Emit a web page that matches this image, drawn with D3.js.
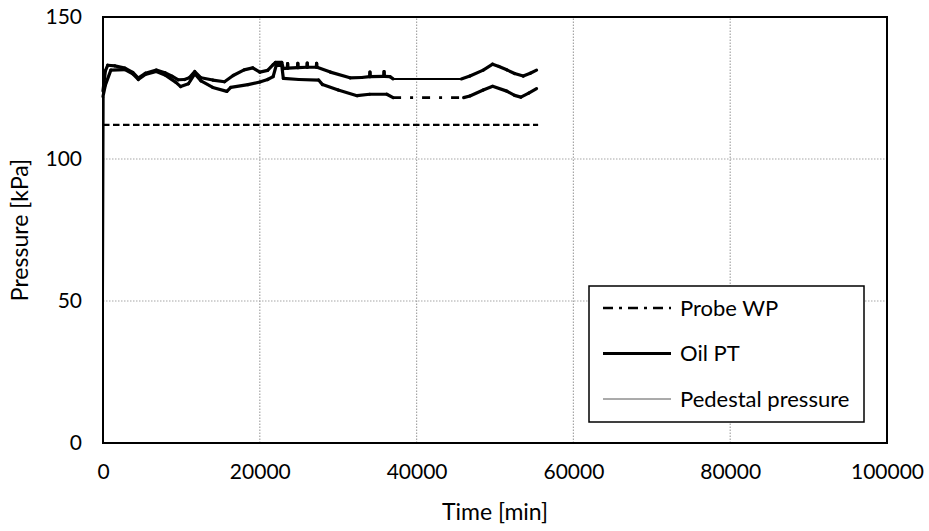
<!DOCTYPE html>
<html>
<head>
<meta charset="utf-8">
<script src="https://cdn.jsdelivr.net/npm/d3@7"></script>
<style>
  html, body { margin: 0; padding: 0; background: #fff; }
  svg { display: block; }
  text { font-family: Lato, "Open Sans", sans-serif; fill: #000; }
</style>
</head>
<body>
<svg id="chart" width="929" height="531"></svg>
<script>
// ---------------- DATA ----------------
const xTicks = [0, 20000, 40000, 60000, 80000, 100000];
const yTicks = [0, 50, 100, 150];
const xTitle = "Time [min]";
const yTitle = "Pressure [kPa]";
const legendNames = ["Probe WP", "Oil PT", "Pedestal pressure"];

// Oil PT (upper thick solid line)
const oilTime = [0, 300, 600, 1500, 2800, 3800, 4500, 5400, 6800, 7900, 8800, 9600, 10400, 11000, 11700, 12500,
  14000, 15500, 16600, 18000, 19100, 20000, 21000, 21700, 22000, 22800, 23000, 23500, 23550, 23600, 24800, 24850, 24900,
  26000, 26050, 26100, 27200, 27250, 27300, 29000, 31500, 33000, 34000, 34050, 34100, 35800, 35850, 35900, 36600, 37000,
  45700, 46800, 48500, 49700, 50500, 51500, 52500, 53600, 54500, 55300];
const oilValues = [124, 131, 133, 132.8, 132, 130.5, 128.5, 130.2, 131.3, 130.4, 129.2, 127.9, 128, 128.6, 130.8, 128.6,
  127.8, 127.2, 129.4, 131.4, 132.1, 130.6, 131.2, 133.2, 134, 134, 131.8, 132, 133.6, 132, 132.2, 133.7, 132.2,
  132.3, 133.8, 132.3, 132.3, 133.7, 132.3, 130.6, 128.6, 128.7, 129, 130.6, 129, 129.1, 130.8, 129.1, 129, 128.2,
  128.2, 129.2, 131.3, 133.4, 132.6, 131.4, 130.1, 129.2, 130.2, 131.3];

// Probe WP (lower line, dash-dot)
const probeTime = [0, 300, 1000, 2800, 3800, 4500, 5400, 6800, 7900, 9300, 9900, 10900, 11700, 12500, 14000, 15800,
  16300, 18500, 20000, 21000, 21700, 22100, 22800, 23000, 25000, 27500, 28000, 30000, 32400, 34000, 36200, 37000,
  46000, 46800, 48500, 49700, 51500, 52500, 53300, 54300, 55300];
const probeValues = [122, 126, 131.3, 131.5, 130, 128, 129.8, 130.8, 129.6, 127, 125.5, 126.5, 130, 127.5, 125.2, 123.8,
  125.2, 126.2, 127.1, 128, 129, 133, 133, 128.4, 128, 127.8, 126.2, 124.3, 122.3, 122.8, 122.8, 121.6,
  121.6, 122.2, 124.3, 125.6, 123.9, 122.4, 121.8, 123.2, 124.8];

// Pedestal pressure (thin line, only visible at the start)
const pedestalTime = [0, 150];
const pedestalValues = [0, 122];

// Constant dashed reference line
const refTime = [0, 55500];
const refValues = [112, 112];

// ---------------- CHART ----------------
const svg = d3.select("#chart");
const W = 929, H = 531;
const margin = { left: 103, right: W - 887, top: 17, bottom: H - 443 };

const x = d3.scaleLinear().domain([0, 100000]).range([margin.left, W - margin.right]);
const y = d3.scaleLinear().domain([0, 150]).range([H - margin.bottom, margin.top]);

// gridlines
const grid = svg.append("g");
grid.selectAll("line.vg").data(xTicks.slice(1, -1)).join("line")
  .attr("x1", d => x(d)).attr("x2", d => x(d))
  .attr("y1", y(0)).attr("y2", y(150))
  .attr("stroke", "#a6a6a6").attr("stroke-width", 1.2).attr("stroke-dasharray", "1.5,1.5");
grid.selectAll("line.hg").data(yTicks.slice(1, -1)).join("line")
  .attr("x1", x(0)).attr("x2", x(100000))
  .attr("y1", d => y(d)).attr("y2", d => y(d))
  .attr("stroke", "#a6a6a6").attr("stroke-width", 1.2).attr("stroke-dasharray", "1.5,1.5");

// axes (labels only)
const xAxis = d3.axisBottom(x).tickValues(xTicks).tickSize(0).tickPadding(21).tickFormat(d3.format("d"));
const gx = svg.append("g").attr("transform", `translate(0,${y(0)})`).call(xAxis);
gx.select(".domain").remove();
gx.selectAll("text").attr("font-size", 21).attr("font-family", "Lato, sans-serif");

const yAxis = d3.axisLeft(y).tickValues(yTicks).tickSize(0).tickPadding(21);
const gy = svg.append("g").attr("transform", `translate(${x(0)},0)`).call(yAxis);
gy.select(".domain").remove();
gy.selectAll("text").attr("font-size", 21).attr("font-family", "Lato, sans-serif");

// axis titles
svg.append("text").attr("x", (x(0) + x(100000)) / 2).attr("y", 520)
  .attr("text-anchor", "middle").attr("font-size", 23).text(xTitle);
svg.append("text").attr("transform", `translate(28,${(y(0) + y(150)) / 2}) rotate(-90)`)
  .attr("text-anchor", "middle").attr("font-size", 23).text(yTitle);

// series
const zip = (t, v) => t.map((d, i) => [d, v[i]]);
const line = d3.line().x(d => x(d[0])).y(d => y(d[1]));
const plot = svg.append("g");

// reference dashed line
plot.append("path").datum(zip(refTime, refValues)).attr("d", line)
  .attr("fill", "none").attr("stroke", "#000").attr("stroke-width", 2.2).attr("stroke-dasharray", "6.5,3.5");

// pedestal pressure (thin)
plot.append("path").datum(zip(pedestalTime, pedestalValues)).attr("d", line)
  .attr("fill", "none").attr("stroke", "#000").attr("stroke-width", 1);

// Probe WP: each recorded step drawn on its own, dash-dot pattern shows on long gaps
const probePts = zip(probeTime, probeValues);
plot.selectAll("path.probe").data(d3.pairs(probePts)).join("path")
  .attr("class", "probe")
  .attr("d", d => line(d))
  .attr("fill", "none").attr("stroke", "#000")
  .attr("stroke-width", d => (d[1][0] - d[0][0] > 5000 ? 2.6 : 3.2))
  .attr("stroke-linecap", d => (d[1][0] - d[0][0] > 5000 ? "butt" : "round"))
  .attr("stroke-linejoin", "round")
  .attr("stroke-dasharray", d => (d[1][0] - d[0][0] > 5000 ? "8,9,3,9" : null));

// Oil PT
const oilPts = zip(oilTime, oilValues);
plot.selectAll("path.oil").data(d3.pairs(oilPts)).join("path")
  .attr("class", "oil")
  .attr("d", d => line(d))
  .attr("fill", "none").attr("stroke", "#000")
  .attr("stroke-width", d => (d[1][0] - d[0][0] > 5000 ? 2 : 3.2))
  .attr("stroke-linecap", "round").attr("stroke-linejoin", "round");

// frame
svg.append("rect").attr("x", x(0)).attr("y", y(150))
  .attr("width", x(100000) - x(0)).attr("height", y(0) - y(150))
  .attr("fill", "none").attr("stroke", "#000").attr("stroke-width", 2);

// legend
const lg = svg.append("g");
lg.append("rect").attr("x", 589).attr("y", 286).attr("width", 275).attr("height", 136)
  .attr("fill", "#fff").attr("stroke", "#000").attr("stroke-width", 1.5);
const legendStyles = [
  { w: 2.5, dash: "10,6,3,6", color: "#000" },
  { w: 2.8, dash: null, color: "#000" },
  { w: 0.9, dash: null, color: "#444" }
];
legendNames.forEach((name, i) => {
  const cy = 308 + i * 45.5;
  lg.append("line").attr("x1", 603).attr("x2", 671).attr("y1", cy).attr("y2", cy)
    .attr("stroke", legendStyles[i].color).attr("stroke-width", legendStyles[i].w)
    .attr("stroke-dasharray", legendStyles[i].dash);
  lg.append("text").attr("x", 680).attr("y", cy + 7.5).attr("font-size", 22).text(name);
});
</script>
</body>
</html>
